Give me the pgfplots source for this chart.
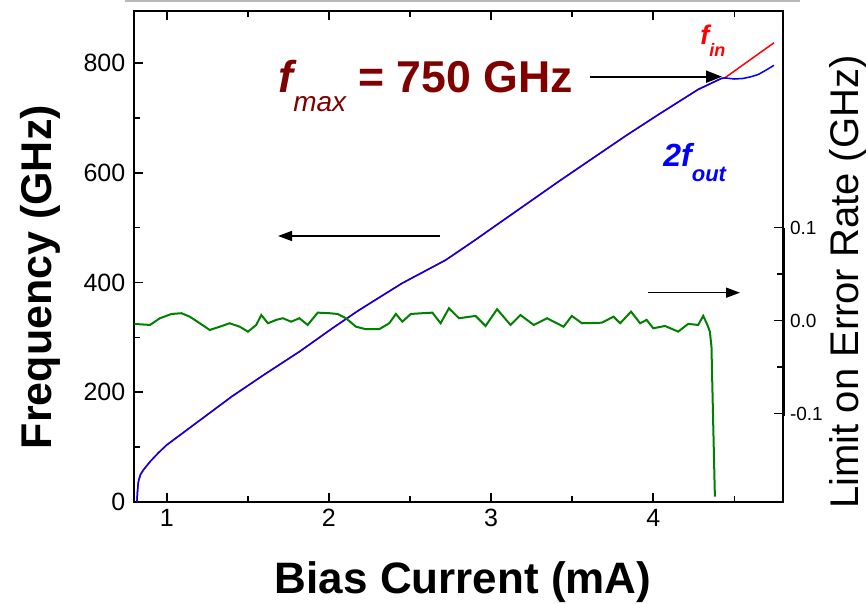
\documentclass[border=0pt]{standalone}
\usepackage{fontspec}
\setmainfont{Liberation Sans}
\usepackage{pgfplots}
\pgfplotsset{compat=1.18}
\usetikzlibrary{arrows.meta}
\definecolor{darkred}{RGB}{128,0,0}
\definecolor{errgreen}{RGB}{0,128,0}

\begin{document}
\begin{tikzpicture}
\begin{axis}[
  at={(0,0)}, anchor=south west,
  scale only axis, width=324.35pt, height=245.5pt,
  xmin=0.8, xmax=4.8, ymin=0, ymax=895,
  xtick={1,2,3,4}, minor xtick={1.5,2.5,3.5,4.5},
  ytick={0,200,400,600,800}, minor ytick={100,300,500,700},
  xtick pos=both, ytick pos=left,
  tick align=inside,
  major tick length=4.5pt, minor tick length=3pt,
  axis line style={line width=0.9pt},
  every tick/.style={black, line width=0.8pt},
  /pgf/number format/assume math mode=true,
  ticklabel style={font=\fontsize{12.5}{12.5}\selectfont},
  yticklabel style={xshift=-1pt},
  xlabel={Bias Current (mA)},
  ylabel={Frequency (GHz)},
  label style={font=\fontsize{21.5}{21.5}\selectfont\bfseries},
  xlabel style={font=\fontsize{22}{22}\selectfont\bfseries,
    at={(axis description cs:0.507,-0.187)}, anchor=base},
  ylabel style={at={(axis description cs:-0.145,0.458)}, anchor=center},
]
% f_in
\addplot[red, line width=0.75pt] coordinates {
  (0.816,0) (0.820,20) (0.825,37) (0.838,50) (0.855,58) (0.897,73.5)
  (0.95,90) (1.0,104) (1.1,126) (1.2,148) (1.4,192) (1.6,232)
  (1.818,274) (2.023,317) (2.177,348) (2.29,369) (2.453,399)
  (2.72,441) (2.75,447) (2.904,478) (3.0,498) (3.418,584.5)
  (3.826,666.6) (4.031,706) (4.277,752) (4.42,772) (4.441,773)
  (4.744,837)
};
% 2 f_out
\addplot[blue, line width=0.75pt] coordinates {
  (0.816,0) (0.820,20) (0.825,37) (0.838,50) (0.855,58) (0.897,73.5)
  (0.95,90) (1.0,104) (1.1,126) (1.2,148) (1.4,192) (1.6,232)
  (1.818,274) (2.023,317) (2.177,348) (2.29,369) (2.453,399)
  (2.72,441) (2.75,447) (2.904,478) (3.0,498) (3.418,584.5)
  (3.826,666.6) (4.031,706) (4.277,752) (4.42,772) (4.441,773)
  (4.50,771) (4.554,772) (4.60,775) (4.646,779) (4.70,788) (4.744,796)
};
\end{axis}

\begin{axis}[
  at={(0,0)}, anchor=south west,
  scale only axis, width=324.35pt, height=245.5pt,
  xmin=0.8, xmax=4.8, ymin=-0.195, ymax=0.333,
  hide x axis,
  ytick pos=right, axis line style={line width=0.9pt},
  ytick={-0.1,0,0.1}, minor ytick={-0.05,0.05},
  tick align=inside,
  major tick length=4.5pt, minor tick length=3pt,
  every tick/.style={black, line width=0.8pt},
  /pgf/number format/assume math mode=true,
  yticklabel style={font=\fontsize{9.5}{9.5}\selectfont,
    /pgf/number format/fixed, /pgf/number format/precision=1,
    /pgf/number format/fixed zerofill},
  ylabel={Limit on Error Rate (GHz)},
  ylabel style={font=\fontsize{20}{20}\selectfont,
    at={(axis description cs:1.100,0.448)}, anchor=center},
  clip=false,
]
\addplot[errgreen, line width=1pt] coordinates {
  (0.800,-0.0035) (0.8965,-0.0046) (0.958,0.0026) (1.030,0.0072)
  (1.091,0.0080) (1.142,0.0043) (1.204,-0.0028) (1.265,-0.0100)
  (1.327,-0.0065) (1.388,-0.0028) (1.450,-0.0065) (1.501,-0.0118)
  (1.552,-0.0046) (1.583,0.0061) (1.624,-0.0028) (1.675,0.0008)
  (1.716,0.0026) (1.767,-0.0011) (1.818,0.0026) (1.869,-0.0046)
  (1.931,0.0086) (2.003,0.0080) (2.054,0.0072) (2.105,0.0026)
  (2.167,-0.0065) (2.228,-0.0092) (2.310,-0.0092) (2.372,-0.0028)
  (2.413,0.0072) (2.453,-0.0011) (2.505,0.0072) (2.576,0.0080)
  (2.638,0.0086) (2.689,-0.0028) (2.740,0.0133) (2.802,0.0026)
  (2.904,0.0051) (2.966,-0.0057) (3.037,0.0123) (3.120,-0.0046)
  (3.181,0.0061) (3.263,-0.0046) (3.345,0.0026) (3.447,-0.0065)
  (3.498,0.0051) (3.560,-0.0028) (3.683,-0.0022) (3.755,0.0043)
  (3.796,-0.0028) (3.863,0.0097) (3.919,-0.0028) (3.959,0.0008)
  (4.000,-0.0082) (4.072,-0.0057) (4.154,-0.0118) (4.215,-0.0035)
  (4.277,-0.0046) (4.308,0.0051) (4.334,-0.0046) (4.349,-0.0118)
  (4.359,-0.0280) (4.363,-0.0602) (4.371,-0.1211) (4.380,-0.1892)
};
\end{axis}

% annotations, in reference pixels (1 px = 0.5pt)
\begin{scope}[shift={(-67.15pt,251pt)}, x=0.5pt, y=-0.5pt]
  \draw[gray!55, line width=1pt] (125,1.5) -- (800,1.5);
  % right frame edge, heavier between -0.1 and 0.1
  \draw[line width=0.9pt] (783.3,11) -- (783.3,502);
  \draw[line width=1.6pt] (783.3,227.7) -- (783.3,416);
  \node[anchor=base west, inner sep=0, text=darkred] at (278,93)
    {\fontsize{22.3}{22.3}\selectfont\bfseries\itshape f\raisebox{-9.5pt}{\fontsize{14}{14}\selectfont\mdseries max}\upshape\ = 750 GHz};
  \node[anchor=base west, inner sep=0, text=red] at (700,45)
    {\fontsize{13.5}{13.5}\selectfont\bfseries\itshape f\raisebox{-6pt}{\fontsize{9}{9}\selectfont in}};
  \node[anchor=base west, inner sep=0, text=blue] at (663,167)
    {\fontsize{16}{16}\selectfont\bfseries\itshape 2f\raisebox{-7.5pt}{\fontsize{11}{11}\selectfont out}};
  \draw[line width=1pt, -{Triangle[length=8pt,width=6pt]}] (590,76.7) -- (722,76.7);
  \draw[line width=0.8pt, -{Triangle[length=7pt,width=5pt]}] (440,236) -- (278,236);
  \draw[line width=0.8pt, -{Triangle[length=7pt,width=5pt]}] (648,292.7) -- (740,292.7);
\end{scope}

\pgfresetboundingbox
\begin{scope}[shift={(-67.15pt,251pt)}, x=0.5pt, y=-0.5pt]
  \useasboundingbox (0,0) rectangle (866,604);
\end{scope}
\end{tikzpicture}
\end{document}
